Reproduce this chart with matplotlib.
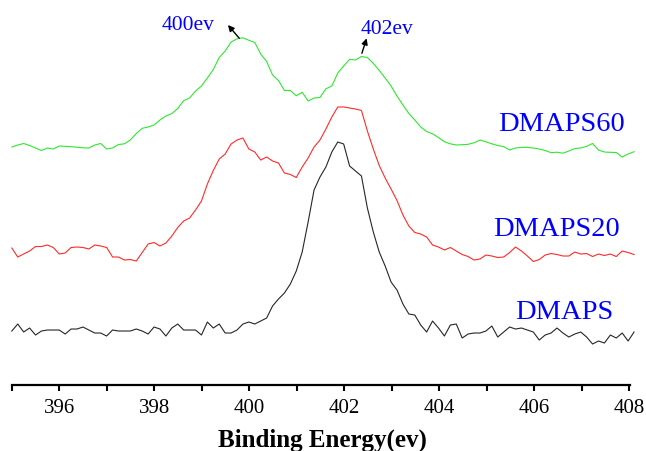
import numpy as np
import matplotlib

matplotlib.use("Agg")
import matplotlib.pyplot as plt

# N 1s spectra, stacked with vertical offsets (arbitrary units)
energy = np.linspace(395.0, 408.1, 106)

dmaps = [
    54, 61, 53, 57, 50, 54, 55, 55, 55, 51, 56, 56, 58, 55, 52, 52, 49, 55, 54, 54,
    54, 56, 54, 51, 58, 56, 49, 57, 61, 55, 55, 55, 50, 63, 57, 61, 52, 52, 55, 61,
    63, 61, 64, 67, 79, 86, 92, 101, 114, 133, 163, 195, 208, 218, 233, 243, 241, 219, 214, 209,
    177, 153, 133, 119, 103, 95, 81, 71, 70, 60, 53, 64, 57, 49, 60, 61, 47, 51, 52, 52,
    54, 59, 48, 53, 58, 56, 57, 55, 53, 45, 50, 52, 57, 52, 48, 51, 53, 48, 41, 44,
    42, 50, 47, 52, 44, 53,
]

dmaps20 = [
    137, 128, 131, 134, 138.5, 138.5, 140, 137.5, 131, 132, 137.5, 138, 137.5, 136, 140, 139,
    137.5, 128, 128, 125, 125.5, 124, 132.5, 141, 142.5, 139, 142, 149, 157.5, 164, 167, 175,
    184, 201, 214.5, 226, 231, 241, 245, 247, 236, 233, 225, 228, 224, 222, 212, 210.5, 207.5,
    218, 227, 238, 245, 256, 268, 278, 278, 277, 276, 274.5, 254, 236, 219.5, 207, 196, 184.5,
    170, 159, 152.5, 151, 148, 140, 138, 135, 137.5, 134, 130.5, 128.5, 125, 126, 130, 129,
    127.5, 128, 132.5, 138, 134, 129, 123.5, 125.5, 130, 131.5, 130.5, 129, 129, 133, 131,
    131.5, 128.5, 131, 129.5, 131, 128.5, 134, 132.5, 130.5,
]

dmaps60 = [
    238, 240, 241.5, 239.5, 237, 234.5, 237, 236, 239, 238.7, 238.3, 237.8, 237.2, 237, 240,
    241.5, 236, 237, 240.5, 241.2, 245, 251.5, 256.7, 258, 260, 265, 269, 271.5, 276.5, 284.3,
    287, 294, 299, 307, 315.5, 327.5, 334, 343, 346.2, 347.2, 344.7, 342.5, 331, 323.5, 310,
    304.5, 294.5, 294.5, 289.2, 292.7, 284, 287, 287.5, 296.2, 299, 312, 319, 325.7, 325,
    328.5, 327.5, 321.7, 314.5, 307, 299, 289, 280, 271.5, 265, 258, 253.5, 251.2, 247.5,
    243.3, 241.2, 240, 240.3, 240.7, 242.2, 245, 243.2, 241.2, 239.5, 238.4, 235, 237, 237.7,
    237.6, 237, 236, 234.5, 232.3, 232.8, 231.8, 234, 236.5, 237, 238.7, 241.5, 235, 233,
    232.7, 232.5, 228, 231, 233.3,
]

series = [
    ("DMAPS", dmaps, "#262626", (406.64, 66)),
    ("DMAPS20", dmaps20, "#ff2a2a", (406.46, 149)),
    ("DMAPS60", dmaps60, "#2ee82e", (406.58, 254.3)),
]

peaks = [
    ("400ev", (399.79, 346.7), (399.55, 360), (398.71, 355)),
    ("402ev", (402.37, 331.7), (402.47, 346.7), (402.89, 351)),
]

serif = ["Liberation Serif", "DejaVu Serif"]

fig = plt.figure(figsize=(6.46, 4.51), dpi=100, facecolor="white")
ax = fig.add_axes([0.0183, 0.1463, 0.9632, 0.8537])

for name, values, color, label_xy in series:
    ax.plot(energy, values, color=color, linewidth=0.8, clip_on=False)
    ax.text(label_xy[0], label_xy[1], name, color="#0000ff", fontsize=20.5,
            family=serif, ha="center", va="baseline")

for label, tail, head, text_xy in peaks:
    ax.annotate("", xy=head, xytext=tail,
                arrowprops=dict(arrowstyle="-|>", color="black", lw=1.0,
                                mutation_scale=9, shrinkA=0, shrinkB=0))
    ax.text(text_xy[0], text_xy[1], label, color="#0000ff", fontsize=15.5,
            family=serif, ha="center", va="baseline")

ax.set_xlim(395, 408.1)
ax.set_ylim(0, 385)
ax.set_xticks(np.arange(396, 409, 2))
ax.set_xticks(np.arange(395, 408, 2), minor=True)
ax.set_yticks([])
for side in ("left", "right", "top"):
    ax.spines[side].set_visible(False)
ax.spines["bottom"].set_linewidth(1.6)
ax.spines["bottom"].set_bounds(395, 408.02)
ax.tick_params(axis="x", which="both", direction="out", length=4, width=1.5, pad=6)
for tick in ax.get_xticklabels():
    tick.set_family(serif)
    tick.set_fontsize(15)

ax.set_xlabel("Binding Energy(ev)", family=serif, fontsize=18, fontweight="bold",
              labelpad=8)

fig.savefig("out.png", dpi=100, facecolor="white")
